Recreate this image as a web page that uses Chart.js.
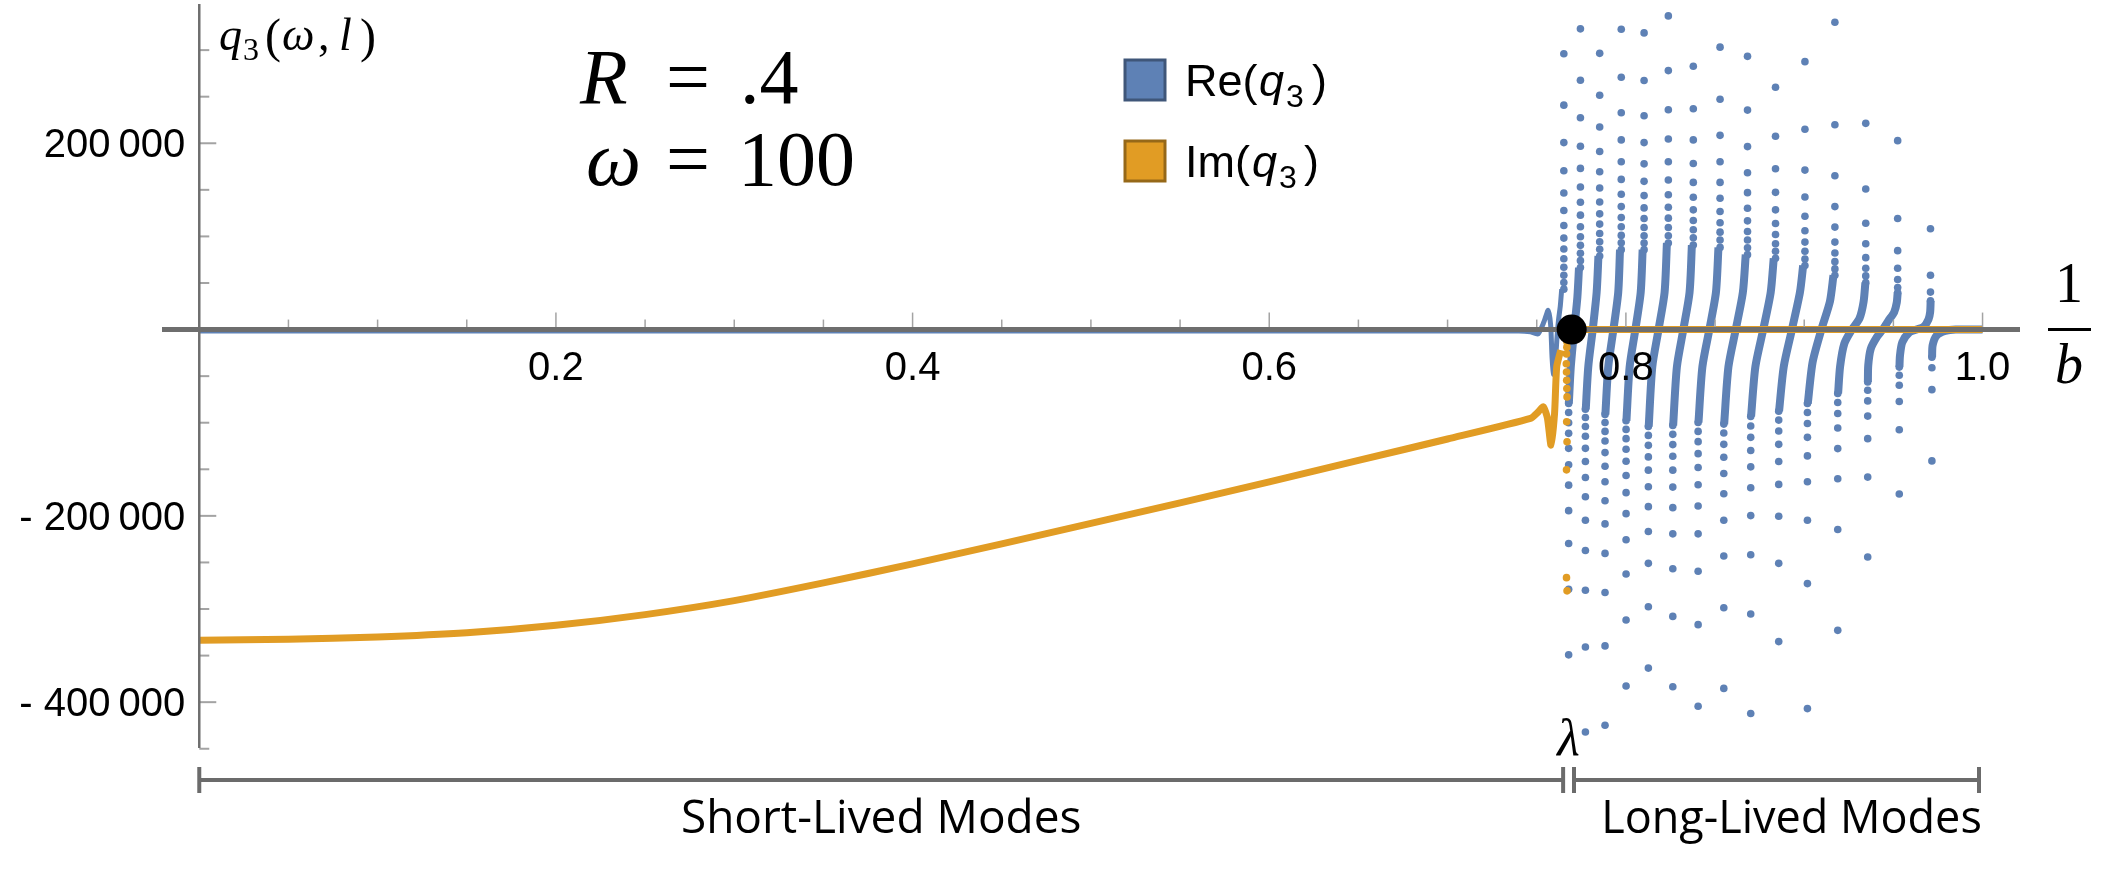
<!DOCTYPE html>
<html>
<head>
<meta charset="utf-8">
<script src="https://cdn.jsdelivr.net/npm/chart.js@4.4.1/dist/chart.umd.min.js"></script>
<style>
  html, body { margin: 0; padding: 0; background: #fff; }
</style>
</head>
<body>
<canvas id="graficoModos" width="2124" height="877"></canvas>
<script>
// Datos: q3(ω, l) frente a 1/b, R = .4, ω = 100

// Parte imaginaria: curva continua hasta lambda
const imCurva = [
    [0, -333500], [0.05, -332500], [0.1, -330000], [0.15, -325500], [0.2, -317500],
    [0.25, -306000], [0.3, -291000], [0.35, -272000], [0.4, -251500], [0.45, -230000],
    [0.5, -208000], [0.55, -186000], [0.6, -163500], [0.65, -140500], [0.7, -117500],
    [0.7465, -95400], [0.7509, -88300], [0.7537, -83000], [0.756, -95000], [0.758, -124000],
    [0.76, -90000], [0.7612, -40000], [0.7635, -22000]
];
// Parte imaginaria: puntos sueltos cerca de lambda
const imPuntos = [
    [0.7668, -8200], [0.7670, -13600], [0.7669, -18900], [0.7667, -26100], [0.7666, -36700],
    [0.7667, -45600], [0.7668, -54500], [0.7669, -63400], [0.7670, -72300], [0.7668, -99000],
    [0.7670, -120400], [0.7667, -150600], [0.7667, -266300], [0.7670, -280500]
];
// Parte imaginaria: casi cero después de lambda
const imPlano = [[0.769, 0], [1.0, 0]];

// Parte real: plana con una oscilación antes de lambda
const reLinea = [
    [0, -1500], [0.74, -1500], [0.7465, -2500], [0.7507, -4700], [0.754, 8000], [0.7564, 20600],
    [0.7578, 5000], [0.7586, -30000], [0.7594, -48000], [0.7604, -35000], [0.7614, -8000],
    [0.7622, 10000], [0.7632, 25000], [0.764, 43400]
];

// Parte real: columnas de puntos por encima del eje (x de cada columna y sus valores)
const reArribaX = [0.7652, 0.7745, 0.7853, 0.7974, 0.8102, 0.8238, 0.8378, 0.8528,
                   0.8682, 0.8839, 0.9004, 0.9172, 0.9345, 0.9524, 0.9708];
const reArribaY = [
    [296100, 240900, 200700, 170500, 146600, 127800, 111700, 98200, 86500, 76100, 66900, 58300, 50500, 43400],
    [322800, 267600, 227400, 196800, 173000, 153000, 136600, 122800, 110300, 99600, 90400, 81800, 74000, 66500],
    [296500, 251600, 217400, 191100, 169400, 152000, 137000, 124200, 113200, 103200, 94300, 86100, 79000],
    [322400, 270800, 232700, 203600, 180100, 161200, 145200, 132000, 120300, 110300, 101100, 93200, 85800],
    [318500, 267300, 229500, 200700, 177900, 159100, 143800, 130600, 119200, 109600, 100700, 92900, 85800],
    [336700, 278000, 236000, 204600, 180100, 160500, 144800, 131300, 119600, 109600, 100700, 92900],
    [282600, 237000, 203600, 178300, 158000, 142000, 128500, 117100, 107100, 98600, 90700],
    [303200, 247300, 208500, 180100, 158000, 140900, 126700, 114600, 104600, 96100, 88200],
    [293300, 235600, 196400, 168300, 147000, 130200, 116700, 105300, 96100, 87900, 80400],
    [260200, 207500, 172600, 147300, 128500, 113900, 102100, 92200, 84000, 76500],
    [287600, 215000, 171200, 142300, 121700, 106000, 93900, 84000, 75800, 68700],
    [329900, 219900, 165100, 132000, 110000, 93900, 82200, 72900, 65100, 58300],
    [221400, 150900, 114200, 92200, 77200, 65800, 57600, 50500],
    [202800, 119200, 84700, 65800, 53700, 45200, 39800],
    [108200, 58300, 40200, 30900]
];

// Parte real: columnas de puntos por debajo del eje
const reAbajoX = [0.7679, 0.7773, 0.7883, 0.8001, 0.8126, 0.8263, 0.8405, 0.8549,
                  0.8700, 0.8857, 0.9018, 0.9188, 0.9356, 0.9533, 0.9716];
const reAbajoY = [
    [-79400, -89000, -100000, -111400, -127500, -145200, -167000, -194400, -229600, -278700, -349200],
    [-85500, -94400, -104000, -114600, -127500, -141700, -158800, -179400, -204700, -237100, -279800, -340700, -432100],
    [-91100, -99700, -109300, -119600, -132100, -146700, -163400, -183700, -208600, -240300, -282300, -339600, -424700],
    [-97900, -107200, -117100, -128500, -141300, -156600, -175100, -197600, -225700, -262400, -311800, -382700],
    [-104000, -113600, -124300, -136700, -150900, -168700, -190100, -216800, -251000, -297600, -363400],
    [-102900, -112500, -123500, -136000, -150900, -169100, -191200, -219300, -256700, -307900, -383400],
    [-99700, -109300, -120300, -133200, -148100, -166600, -189400, -219300, -259500, -316800, -404400],
    [-101500, -111100, -123200, -137100, -154500, -176200, -204700, -243100, -298700, -385200],
    [-93300, -103600, -115700, -129900, -147400, -169800, -199700, -241700, -305400, -412200],
    [-87600, -97200, -108900, -123200, -141700, -166200, -200400, -251000, -335000],
    [-79400, -89000, -100800, -115700, -135600, -163400, -204700, -272700, -406900],
    [-68700, -78300, -90100, -105700, -127800, -160200, -214700, -322900],
    [-56300, -65200, -76600, -92900, -117100, -158400, -244200],
    [-40300, -49100, -59800, -77300, -107500, -176600],
    [-29600, -41000, -64500, -141000]
];

// Parte real: tramos densos que cruzan el eje entre polos
const reTramos = [
    [[0.7680, -79400], [0.7691, -40000], [0.7710, 0], [0.7728, 35000], [0.7737, 66500]],
    [[0.7775, -85500], [0.7789, -40000], [0.7814, 0], [0.7836, 40000], [0.7846, 79000]],
    [[0.7885, -91100], [0.7901, -40000], [0.7930, 0], [0.7957, 40000], [0.7967, 85800]],
    [[0.8003, -97900], [0.8021, -40000], [0.8053, 0], [0.8083, 40000], [0.8094, 85800]],
    [[0.8128, -104000], [0.8148, -40000], [0.8183, 0], [0.8217, 40000], [0.8230, 92900]],
    [[0.8265, -102900], [0.8286, -40000], [0.8322, 0], [0.8357, 40000], [0.8370, 90700]],
    [[0.8407, -99700], [0.8429, -40000], [0.8468, 0], [0.8505, 40000], [0.8519, 88200]],
    [[0.8551, -101500], [0.8575, -40000], [0.8616, 0], [0.8656, 40000], [0.8672, 80400]],
    [[0.8702, -93300], [0.8726, -40000], [0.8770, 0], [0.8812, 40000], [0.8829, 76500]],
    [[0.8859, -87600], [0.8885, -40000], [0.8931, 0], [0.8976, 40000], [0.8994, 68700]],
    [[0.9020, -79400], [0.9047, -35000], [0.9096, 0], [0.9144, 30000], [0.9164, 58300]],
    [[0.9190, -68700], [0.9201, -40000], [0.9225, -15000], [0.9267, 0], [0.9310, 12000], [0.9333, 30000], [0.9343, 50500]],
    [[0.9357, -56300], [0.9359, -38500], [0.9373, -20700], [0.9407, -8200], [0.9440, 0], [0.9472, 9600], [0.9504, 18500], [0.9519, 29000], [0.9524, 39800]],
    [[0.9534, -40300], [0.9537, -27800], [0.9550, -13600], [0.9590, -3000], [0.9630, 0], [0.9670, 3000], [0.9697, 11000], [0.9706, 18500], [0.9709, 30900]],
    [[0.9717, -29600], [0.9720, -17000], [0.9742, -6400], [0.9790, -1500], [0.9850, 0], [1.0, 0]]
];

// Punto lambda y límites de los tramos de modos
const puntoLambda = [0.7696, 0];
const limitesModos = [0, 0.7648, 0.7709, 0.998];
const nombresModos = ['Short-Lived Modes', 'Long-Lived Modes'];

// Marcas de los ejes
const xEtiquetasValor = [0.2, 0.4, 0.6, 0.8, 1.0];
const xEtiquetasTexto = ['0.2', '0.4', '0.6', '0.8', '1.0'];
const xMenores = [0.05, 0.1, 0.15, 0.25, 0.3, 0.35, 0.45, 0.5, 0.55, 0.65, 0.7, 0.75, 0.85, 0.9, 0.95];
const yEtiquetasValor = [200000, -200000, -400000];
const yEtiquetasTexto = ['200\u2009000', '- 200\u2009000', '- 400\u2009000'];
const yMenores = [300000, 250000, 150000, 100000, 50000, -50000, -100000, -150000, -250000, -300000, -350000, -450000];

const series = ['Re', 'Im'];

const colorRe = '#5E81B5';
const colorIm = '#E19C24';
const SERIF = '"Liberation Serif", "Times New Roman", serif';
const SANS = '"Liberation Sans", Arial, sans-serif';

const aPuntos = arr => arr.map(([x, y]) => ({ x: x, y: y }));

const reDots = [];
reArribaX.forEach((x, i) => reArribaY[i].forEach(y => reDots.push({ x: x, y: y })));
reAbajoX.forEach((x, i) => reAbajoY[i].forEach(y => reDots.push({ x: x, y: y })));

const tramosData = [];
reTramos.forEach((tramo, i) => {
    if (i > 0) tramosData.push({ x: tramo[0][0], y: null });
    tramo.forEach(([x, y]) => tramosData.push({ x: x, y: y }));
});

// Dibujo de ejes, marcas, textos y leyenda
const decoraciones = {
    id: 'decoraciones',
    afterDatasetsDraw(chart) {
        const { ctx, chartArea: area, scales: { x, y } } = chart;
        const x0 = x.getPixelForValue(0);
        const y0 = y.getPixelForValue(0);
        const linea = (x1, y1, x2, y2) => { ctx.beginPath(); ctx.moveTo(x1, y1); ctx.lineTo(x2, y2); ctx.stroke(); };
        const texto = (s, px, py, font, align) => {
            ctx.font = font; ctx.textAlign = align || 'left'; ctx.fillText(s, px, py);
        };
        ctx.save();
        ctx.lineCap = 'butt';

        // marcas
        ctx.strokeStyle = '#a3a3a3';
        ctx.lineWidth = 1.5;
        xMenores.forEach(v => { const px = x.getPixelForValue(v); linea(px, y0 - 2, px, y0 - 10); });
        xEtiquetasValor.forEach(v => { const px = x.getPixelForValue(v); linea(px, y0 - 2, px, y0 - 17); });
        ctx.lineWidth = 2;
        yMenores.forEach(v => { const py = y.getPixelForValue(v); linea(x0, py, x0 + 10, py); });
        yEtiquetasValor.forEach(v => { const py = y.getPixelForValue(v); linea(x0, py, x0 + 17, py); });

        // ejes
        ctx.strokeStyle = '#6e6e6e';
        ctx.lineWidth = 2.5;
        linea(x0, area.top, x0, area.bottom);
        ctx.lineWidth = 5;
        linea(area.left, y0, area.right, y0);

        // punto lambda
        ctx.fillStyle = '#000';
        ctx.beginPath();
        ctx.arc(x.getPixelForValue(puntoLambda[0]), y.getPixelForValue(puntoLambda[1]), 15, 0, Math.PI * 2);
        ctx.fill();

        // etiquetas de las marcas
        ctx.textBaseline = 'alphabetic';
        xEtiquetasValor.forEach((v, i) => texto(xEtiquetasTexto[i], x.getPixelForValue(v), y0 + 50, `40px ${SANS}`, 'center'));
        yEtiquetasValor.forEach((v, i) => texto(yEtiquetasTexto[i], x0 - 14, y.getPixelForValue(v) + 14, `40px ${SANS}`, 'right'));

        // título del eje y: q3(ω, l)
        texto('q', 219, 50, `italic 46px ${SERIF}`);
        texto('3', 243, 60, `32px ${SERIF}`);
        texto('(', 265, 52, `48px ${SERIF}`);
        texto('ω', 282, 50, `italic 46px ${SERIF}`);
        texto(',', 318, 50, `46px ${SERIF}`);
        texto('l', 339, 50, `italic 46px ${SERIF}`);
        texto(')', 360, 52, `48px ${SERIF}`);

        // título del eje x: 1/b
        const cx = 2069;
        texto('1', cx, 302, `56px ${SERIF}`, 'center');
        ctx.strokeStyle = '#000';
        ctx.lineWidth = 3;
        linea(2048, y0, 2091, y0);
        texto('b', cx, 383, `italic 56px ${SERIF}`, 'center');

        // parámetros
        texto('R', 580, 103, `italic 78px ${SERIF}`);
        texto('=', 688, 103, `78px ${SERIF}`, 'center');
        texto('.4', 740, 103, `78px ${SERIF}`);
        texto('ω', 586, 185, `italic 78px ${SERIF}`);
        texto('=', 688, 185, `78px ${SERIF}`, 'center');
        texto('100', 738, 185, `78px ${SERIF}`);

        // leyenda
        const bordes = ['#3F5679', '#966818'];
        [colorRe, colorIm].forEach((c, i) => {
            const top = i === 0 ? 60 : 141;
            ctx.fillStyle = c;
            ctx.fillRect(1125, top, 40, 40);
            ctx.strokeStyle = bordes[i];
            ctx.lineWidth = 3;
            ctx.strokeRect(1125, top, 40, 40);
        });
        ctx.fillStyle = '#000';
        texto(series[0] + '(', 1185, 96, `45px ${SANS}`);
        texto('q', 1259, 96, `italic 45px ${SANS}`);
        texto('3', 1286, 107, `32px ${SANS}`);
        texto(')', 1312, 96, `45px ${SANS}`);
        texto(series[1] + '(', 1185, 177, `45px ${SANS}`);
        texto('q', 1252, 177, `italic 45px ${SANS}`);
        texto('3', 1279, 188, `32px ${SANS}`);
        texto(')', 1304, 177, `45px ${SANS}`);

        // llaves de modos
        const yl = 780;
        const p = limitesModos.map(v => x.getPixelForValue(v));
        ctx.strokeStyle = '#6b6b6b';
        ctx.lineWidth = 4;
        linea(p[0], yl, p[1], yl);
        linea(p[2], yl, p[3], yl);
        p.forEach(px => linea(px, yl - 13, px, yl + 13));
        texto(nombresModos[0], (p[0] + p[1]) / 2, 833, `46px "Open Sans", ${SANS}`, 'center');
        texto(nombresModos[1], (p[2] + p[3]) / 2 + 15, 833, `45px "Open Sans", ${SANS}`, 'center');
        texto('λ', (p[1] + p[2]) / 2, 755, `italic 52px ${SERIF}`, 'center');

        ctx.restore();
    }
};

const ctx = document.getElementById('graficoModos').getContext('2d');

new Chart(ctx, {
    type: 'scatter',
    data: {
        datasets: [
            {
                label: 'Im curva',
                data: aPuntos(imCurva),
                showLine: true,
                borderColor: colorIm,
                borderWidth: 7,
                pointRadius: 0,
                tension: 0.2
            },
            {
                label: 'Im puntos',
                data: aPuntos(imPuntos),
                backgroundColor: colorIm,
                pointRadius: 3.8,
                pointBorderWidth: 0
            },
            {
                label: 'Im plano',
                data: aPuntos(imPlano),
                showLine: true,
                borderColor: colorIm,
                borderWidth: 7,
                pointRadius: 0
            },
            {
                label: 'Re linea',
                data: aPuntos(reLinea),
                showLine: true,
                borderColor: colorRe,
                borderWidth: 5,
                pointRadius: 0,
                tension: 0.2
            },
            {
                label: 'Re tramos',
                data: tramosData,
                showLine: true,
                spanGaps: false,
                borderColor: colorRe,
                borderWidth: 8,
                pointRadius: 0,
                tension: 0.25
            },
            {
                label: 'Re puntos',
                data: reDots,
                backgroundColor: colorRe,
                pointRadius: 3.8,
                pointBorderWidth: 0
            }
        ]
    },
    options: {
        responsive: false,
        devicePixelRatio: 1,
        animation: false,
        events: [],
        layout: {
            padding: { left: 162, right: 104, top: 0, bottom: 129 }
        },
        plugins: {
            legend: { display: false },
            tooltip: { enabled: false }
        },
        scales: {
            x: { type: 'linear', min: -0.0209, max: 1.021, display: false },
            y: { type: 'linear', min: -449200, max: 349500, display: false }
        }
    },
    plugins: [decoraciones]
});
</script>
</body>
</html>
